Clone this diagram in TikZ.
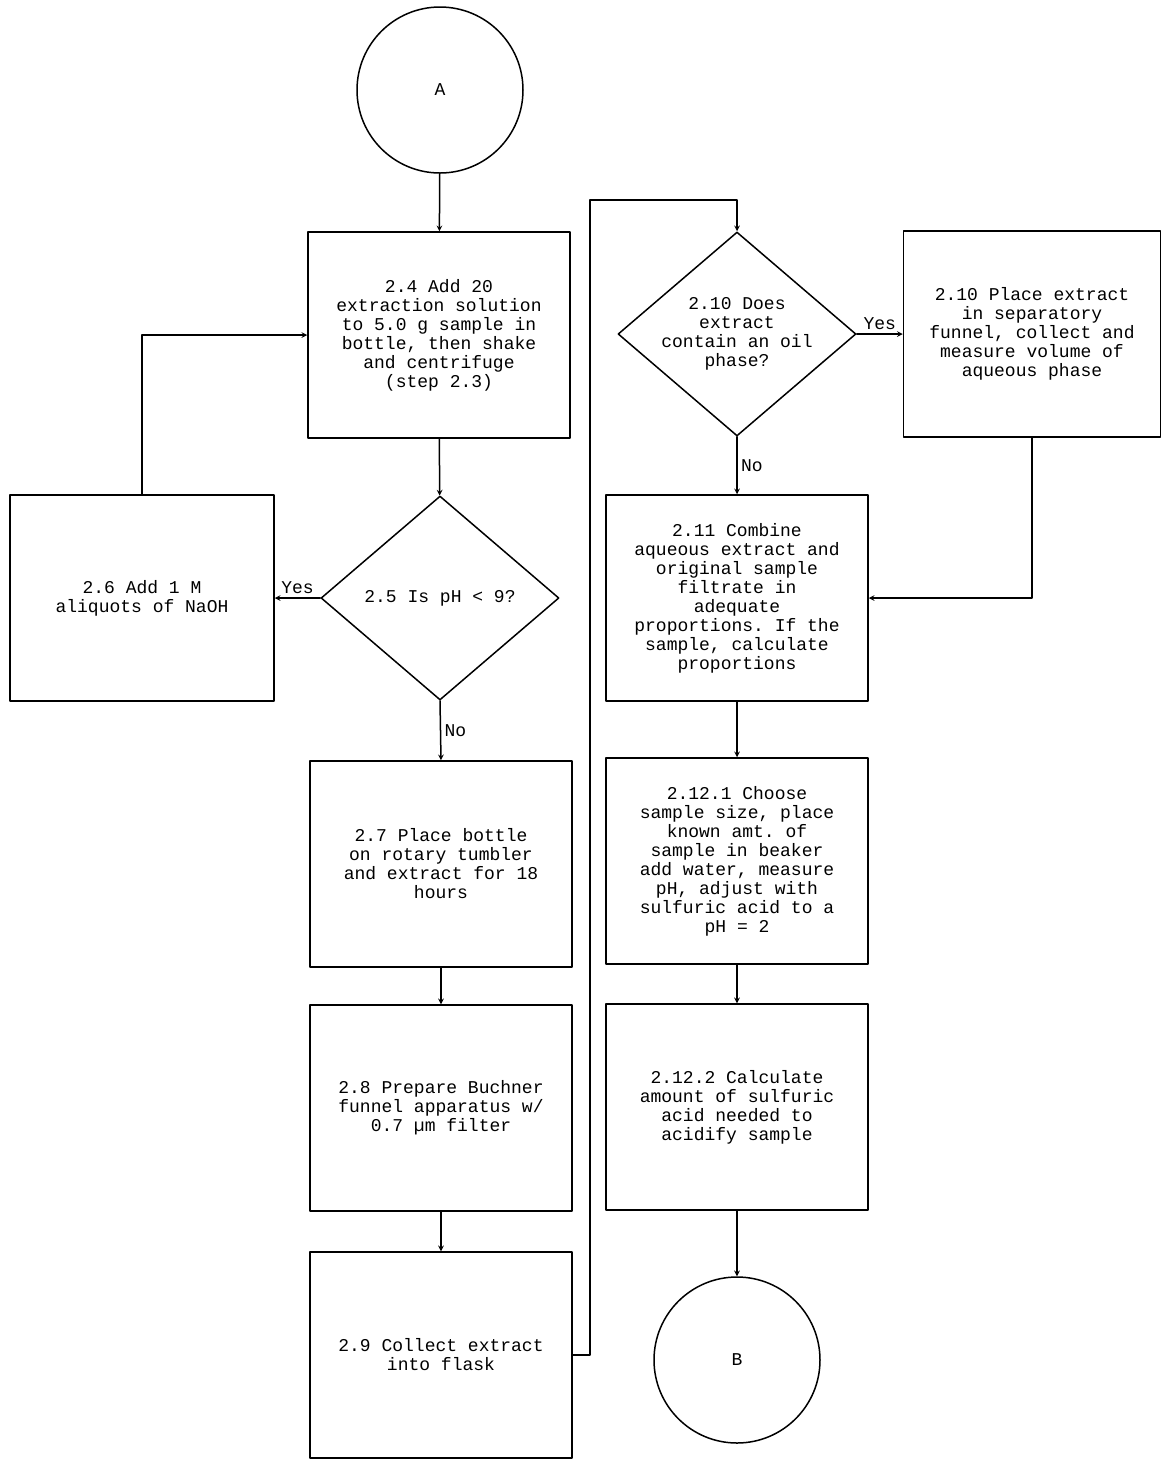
\documentclass[tikz,border=0pt]{standalone}
\usepackage{fontspec}
\setmonofont{Liberation Mono}
\usetikzlibrary{shapes.geometric}

\begin{document}
\begin{tikzpicture}[font=\ttfamily\fontsize{18}{19}\selectfont, line join=round, line cap=round,>=stealth,x=1pt,y=-1pt,line width=1.5pt,
  box/.style={draw, rectangle, minimum width=262pt, minimum height=206pt, align=center, inner sep=2pt},
  decision/.style={draw, diamond, minimum width=238pt, minimum height=204pt, inner sep=0pt},
  dtext/.style={align=center, inner sep=0pt},
  term/.style={draw, circle, minimum size=166pt, inner sep=0pt}]
\def \wpic{1161};
\def \hpic{1460};
\useasboundingbox (0,0) rectangle (\wpic,\hpic);
% left column
\node[term] (A) at (440,90) {A};
\node[box] (b24) at (439,335) {2.4 Add 20\\extraction solution\\to 5.0 g sample in\\bottle, then shake\\and centrifuge\\(step 2.3)};
\node[decision] (d25) at (440,598) {};
\node[dtext] at (d25) {2.5 Is pH < 9?};
\node[box, minimum width=264pt] (b26) at (142,598) {2.6 Add 1 M\\aliquots of NaOH};
\node[box] (b27) at (441,864) {2.7 Place bottle\\on rotary tumbler\\and extract for 18\\hours};
\node[box] (b28) at (441,1108) {2.8 Prepare Buchner\\funnel apparatus w/\\0.7 µm filter};
\node[box] (b29) at (441,1355) {2.9 Collect extract\\into flask};
% right column
\node[decision] (d210) at (737,334) {};
\node[dtext] at (d210) {2.10 Does\\extract\\contain an oil\\phase?};
\node[box, minimum width=257pt] (b210) at (1032,334) {2.10 Place extract\\in separatory\\funnel, collect and\\measure volume of\\aqueous phase};
\node[box] (b211) at (737,598) {2.11 Combine\\aqueous extract and\\original sample\\filtrate in\\adequate\\proportions. If the\\sample, calculate\\proportions};
\node[box] (b2121) at (737,861) {2.12.1 Choose\\sample size, place\\known amt. of\\sample in beaker\\add water, measure\\pH, adjust with\\sulfuric acid to a\\pH = 2};
\node[box] (b2122) at (737,1107) {2.12.2 Calculate\\amount of sulfuric\\acid needed to\\acidify sample};
\node[term] (B) at (737,1360) {B};
\coordinate (loop) at (590,200);
% connectors
\draw[->] (A) -- (b24);
\draw[->] (b24) -- (d25);
\draw[->] (d25.west) -- (b26.east) node[midway,above] {Yes};
\draw[->] (b26.north) |- (b24.west);
\draw[->] (d25.south) -- (b27.north) node[midway,right] {No};
\draw[->] (b27) -- (b28);
\draw[->] (b28) -- (b29);
\draw[->] (b29.east) -| (loop) -| (d210.north);
\draw[->] (d210.east) -- (b210.west) node[midway,above] {Yes};
\draw[->] (d210.south) -- (b211.north) node[midway,right] {No};
\draw[->] (b210.south) |- (b211.east);
\draw[->] (b211) -- (b2121);
\draw[->] (b2121) -- (b2122);
\draw[->] (b2122) -- (B);
\end{tikzpicture}
\end{document}
